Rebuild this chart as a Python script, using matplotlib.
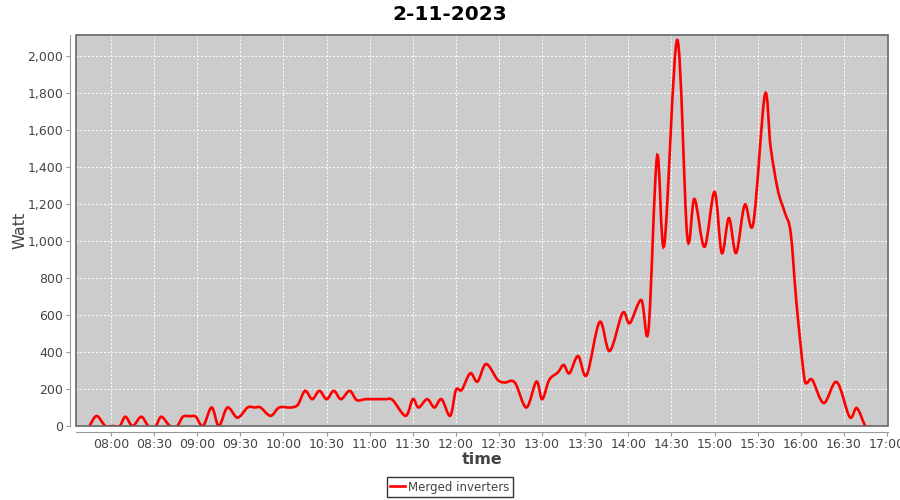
import matplotlib
matplotlib.use("Agg")
import matplotlib.pyplot as plt
from matplotlib.path import Path
from matplotlib.patches import PathPatch, Rectangle
from matplotlib.lines import Line2D
from matplotlib.ticker import FuncFormatter, MultipleLocator
import numpy as np

# samples (time of day, watts)
times = ["07:45", "07:50", "07:56", "08:01", "08:06", "08:10", "08:15", "08:21", "08:26", "08:31",
         "08:35", "08:41", "08:46", "08:50", "08:55", "08:59", "09:04", "09:10", "09:15", "09:21",
         "09:28", "09:35", "09:40", "09:44", "09:51", "09:57", "10:05", "10:10", "10:15", "10:20",
         "10:25", "10:30", "10:35", "10:40", "10:46", "10:51", "10:57", "11:04", "11:11", "11:16",
         "11:25", "11:30", "11:34", "11:40", "11:45", "11:50", "11:56", "12:00", "12:04", "12:10",
         "12:15", "12:21", "12:29", "12:34", "12:41", "12:49", "12:56", "13:00", "13:05", "13:11",
         "13:15", "13:19", "13:25", "13:31", "13:40", "13:47", "13:56", "14:01", "14:09", "14:14",
         "14:20", "14:25", "14:34", "14:41", "14:46", "14:53", "15:00", "15:05", "15:10", "15:15",
         "15:21", "15:27", "15:35", "15:39", "15:44", "15:49", "15:53", "15:57", "16:02", "16:04",
         "16:08", "16:16", "16:25", "16:34", "16:39", "16:45", "16:49"]
watts = [0, 54, 0, 0, 0, 50, 0, 50, 0, 0,
         50, 0, 0, 50, 53, 50, 0, 100, 0, 100,
         45, 100, 100, 100, 55, 100, 100, 115, 190, 145,
         190, 145, 190, 145, 190, 140, 145, 145, 145, 140,
         55, 145, 100, 145, 100, 145, 55, 195, 195, 285,
         240, 335, 250, 235, 235, 100, 240, 145, 250, 290,
         330, 285, 378, 275, 562, 405, 611, 556, 681, 519,
         1459, 978, 2086, 1022, 1227, 968, 1265, 935, 1124, 935,
         1195, 1097, 1789, 1508, 1276, 1151, 1043, 665, 286, 232,
         249, 124, 238, 49, 97, 0, 0]

title = "2-11-2023"
series_name = "Merged inverters"


def to_minutes(t):
    h, m = t.split(":")
    return int(h) * 60 + int(m)


def spline_path(xs, ys):
    # catmull-rom segments as cubic bezier, like the spline renderer of the source chart
    pts = np.column_stack([xs, ys]).astype(float)
    verts = [pts[0]]
    codes = [Path.MOVETO]
    n = len(pts)
    for i in range(n - 1):
        p0 = pts[max(i - 1, 0)]
        p1 = pts[i]
        p2 = pts[i + 1]
        p3 = pts[min(i + 2, n - 1)]
        verts += [p1 + (p2 - p0) / 6.0, p2 - (p3 - p1) / 6.0, p2]
        codes += [Path.CURVE4] * 3
    return Path(verts, codes)


x = np.array([to_minutes(t) for t in times])
y = np.array(watts)

fig = plt.figure(figsize=(9, 5), dpi=100)
ax = fig.add_axes([76 / 900, 1 - 426 / 500, (888 - 76) / 900, (426 - 35) / 500])
ax.set_facecolor("#cccccc")
ax.set_xlim(455.6, 1020.7)
ax.set_ylim(0, 2113)

ax.grid(True, color="white", linestyle=(0, (2, 2)), linewidth=0.7)
ax.set_axisbelow(True)

patch = PathPatch(spline_path(x, y), facecolor="none", edgecolor="#ff0000",
                  linewidth=1.9, transform=ax.transData, zorder=3)
ax.add_patch(patch)

ax.set_xticks(np.arange(480, 1021, 30))
ax.xaxis.set_major_formatter(FuncFormatter(lambda v, p: f"{int(v) // 60:02d}:{int(v) % 60:02d}"))
ax.yaxis.set_major_locator(MultipleLocator(200))
ax.yaxis.set_major_formatter(FuncFormatter(lambda v, p: f"{int(v):,}"))

for side in ("top", "right"):
    ax.spines[side].set_visible(False)
for side in ("left", "bottom"):
    ax.spines[side].set_position(("outward", 4))
    ax.spines[side].set_color("#999999")
ax.tick_params(colors="#999999", labelcolor="#444444", labelsize=9, length=3, width=0.8, pad=2)

# plot area outline
ax.add_patch(Rectangle((0, 0), 1, 1, transform=ax.transAxes, fill=False,
                       edgecolor="#666666", linewidth=1.2, zorder=4, clip_on=False))

ax.set_xlabel("time", fontsize=11.5, fontweight="bold", color="#444444")
ax.set_ylabel("Watt", fontsize=11.5, color="#444444")
ax.xaxis.set_label_coords(0.5, (426 - 459) / 391, transform=ax.transAxes)
ax.yaxis.set_label_coords((20 - 76) / 812, 0.5, transform=ax.transAxes)
ax.xaxis.label.set_va("center")
ax.yaxis.label.set_va("center")
fig.suptitle(title, fontsize=14.5, fontweight="bold", y=0.99)

handle = Line2D([], [], color="#ff0000", linewidth=1.9)
leg = fig.legend([handle], [series_name], loc="center", bbox_to_anchor=(0.5, 0.026),
                 fontsize=8.5, frameon=True, fancybox=False, handlelength=1.2,
                 borderpad=0.3, handletextpad=0.3, borderaxespad=0)
leg.get_frame().set_edgecolor("black")
leg.get_frame().set_linewidth(1.0)
for t in leg.get_texts():
    t.set_color("#444444")

fig.savefig("out.png", dpi=100)
